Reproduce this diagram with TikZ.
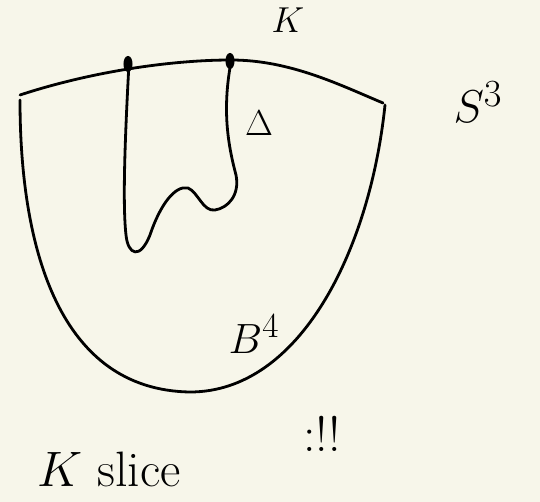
\documentclass[tikz,border=0pt]{standalone}
\usepackage{amsmath,amssymb}
\usepackage{graphicx}
\usepackage{xcolor}
\usepackage{tikz}
\usetikzlibrary{calc,shapes.geometric}

\definecolor{paper}{HTML}{F7F6EA}
\newcommand{\bigtext}[2][1.45]{\scalebox{#1}{#2}}

\begin{document}
\begin{tikzpicture}[
x=1pt, y=-1pt,
pen/.style={line width=2.8pt, line cap=round, line join=round},
lbl/.style={font=\Huge},
knotpt/.style={draw, line width=2pt, fill=black, ellipse, minimum width=7pt, minimum height=14pt, inner sep=0pt}
]
\fill[paper] (0,0) rectangle (540,502);
\useasboundingbox (0,0) rectangle (540,502);

% boundary S^3 and the ball
\draw[pen] (20,95) .. controls (90,72) and (170,60) .. (231,60)
  .. controls (290,60) and (340,85) .. (383,103);
\draw[pen] (20,100) .. controls (20,250) and (60,390) .. (190,392)
  .. controls (300,392) and (370,250) .. (385,105);

% the slice disc
\draw[pen] (129,63) .. controls (126,120) and (122,200) .. (126,235)
  .. controls (128,255) and (140,260) .. (150,235)
  .. controls (160,205) and (175,185) .. (188,188)
  .. controls (198,192) and (203,212) .. (215,210)
  .. controls (228,208) and (240,195) .. (236,175)
  .. controls (228,145) and (222,110) .. (231,62);

\node[knotpt] (kleft) at (128,64) {};
\node[knotpt] (kright) at (230,61) {};

\node[lbl] (knot) at (288,20) {\bigtext{$K$}};
\node[lbl] (disc) at (259,123) {\bigtext{$\Delta$}};
\node[lbl] (sphere) at (478,102) {\bigtext[1.85]{$S^3$}};
\node[lbl] (ball) at (254,334) {\bigtext[1.7]{$B^4$}};
\node[lbl, anchor=base west] (slice) at (34,486) {\bigtext[2]{$K$ slice}};
\node[lbl] (bang) at (322,434) {\bigtext[2]{:!!}};
\end{tikzpicture}
\end{document}
